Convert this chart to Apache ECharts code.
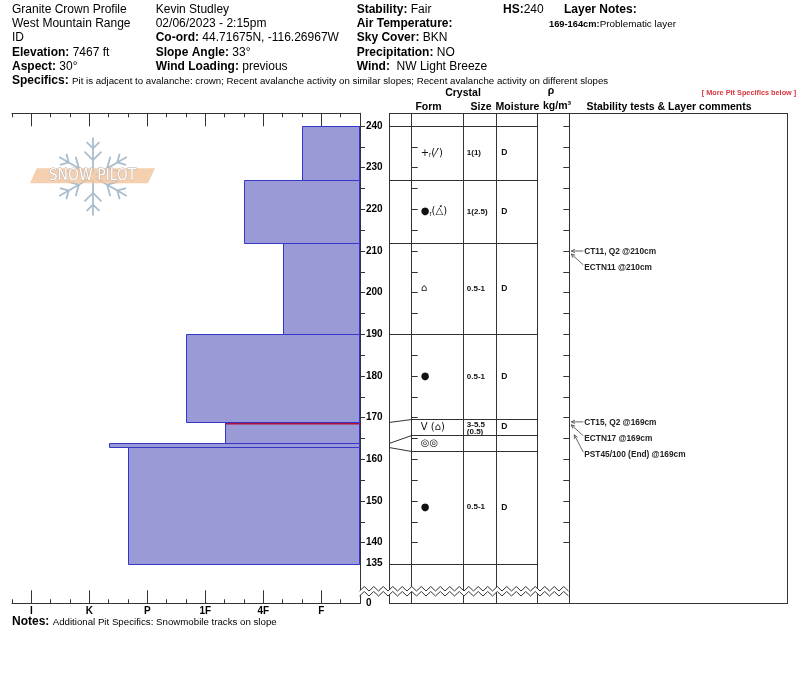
<!DOCTYPE html>
<html><head><meta charset="utf-8">
<script src="https://cdn.jsdelivr.net/npm/echarts@6/dist/echarts.min.js"></script>
<style>html,body{margin:0;padding:0;background:#fff}#c{width:800px;height:676px}</style>
</head><body><div id="c"></div>
<script>
// ---------------- data ----------------
const snowHeight = 240;
const layerTop      = [240, 227, 212, 190, 169, 164, 163];
const layerBottom   = [227, 212, 190, 169, 164, 163, 135];
const layerHardness = ['F+', '4F+', '4F-', '1F+', '1F-', 'K-', 'P+'];
const formPrimary   = ['+', '●', '⌂', '●', 'V', '◎◎', '●'];
const formSub       = ['r', 'r', '', '', '', '', ''];
const formSecondary = ['⁄′', '△̽', '', '', '⌂', '', ''];
const grainSize     = ['1(1)', '1(2.5)', '0.5-1', '0.5-1', '3-5.5\n(0.5)', '', '0.5-1'];
const moisture      = ['D', 'D', 'D', 'D', 'D', '', 'D'];
// table row edges as drawn (thin layers spread out)
const displayEdge   = [240, 227, 212, 190, 169.7, 165.85, 162.0, 135];
const hardnessLabels = ['F', '4F', '1F', 'P', 'K', 'I'];
const heightLabels  = [240, 230, 220, 210, 200, 190, 180, 170, 160, 150, 140, 135];
const heightTicks   = [240, 235, 230, 225, 220, 215, 210, 205, 200, 195, 190, 185, 180, 175, 170, 165, 160, 155, 150, 145, 140];
const problemLayer  = [169, 164];
const testDepth = [210, 210, 169, 169, 169];
const testText  = ['CT11, Q2 @210cm', 'ECTN11 @210cm', 'CT15, Q2 @169cm', 'ECTN17 @169cm', 'PST45/100 (End) @169cm'];

// ---------------- helpers ----------------
const FF = '"Liberation Sans", Arial, Helvetica, sans-serif';
const Y_MIN = 125.46, Y_MAX = 243.05;
const G_TOP = 113.3, G_H = 490;
const COL = {conn: 0, form: 22.7, size: 74.3, moist: 107.7, dens: 148.3, stab: 180.3, right: 399};
function hardVal(h) {
  const base = h.replace(/[+-]$/, '');
  let v = 2 + 3 * hardnessLabels.indexOf(base);
  if (h.endsWith('+')) v += 1;
  if (h.endsWith('-')) v -= 1;
  return v;
}
const crisp = v => Math.round(v) + 0.5;
const majorHard = hardnessLabels.map((_, i) => 2 + 3 * i);

const chart = echarts.init(document.getElementById('c'), null, {renderer: 'canvas'});

const profileData = layerTop.map((t, i) => [hardVal(layerHardness[i]), t, layerBottom[i], i]);
const tableData = layerTop.map((t, i) => [i, t]);
const testData = [];
const seen = {};
testDepth.forEach((d, i) => { seen[d] = (seen[d] === undefined) ? 0 : seen[d] + 1; testData.push([i, d, seen[d]]); });

// snowflake logo
const flake = [];
(function () {
  const cx = 93, cy = 176.5, L = 39;
  const ln = (x1, y1, x2, y2) => ({type: 'line', shape: {x1, y1, x2, y2}, style: {stroke: '#aabdcc', lineWidth: 1.8}, z: 0});
  for (let k = 0; k < 6; k++) {
    const a = (90 + 60 * k) * Math.PI / 180;
    const dx = Math.cos(a), dy = -Math.sin(a);
    flake.push(ln(cx + 3 * dx, cy + 3 * dy, cx + L * dx, cy + L * dy));
    [0.42, 0.72].forEach(d => {
      const px = cx + L * d * dx, py = cy + L * d * dy;
      [-1, 1].forEach(s => {
        const b = a + s * Math.PI / 4;
        const bl = d < 0.6 ? 12 : 9;
        flake.push(ln(px, py, px + bl * Math.cos(b), py - bl * Math.sin(b)));
      });
    });
  }
})();

function rt(x, y, text, size, extra) {
  return Object.assign({
    type: 'text', x, y, z: 10,
    style: Object.assign({
      text, fontSize: size, fontFamily: FF, fill: '#000', verticalAlign: 'middle',
      rich: {
        b: {fontWeight: 'bold', fontSize: size, fontFamily: FF, fill: '#000'},
        s: {fontSize: 9.7, fontFamily: FF, fill: '#000'},
        nb: {fontWeight: 'bold', fontSize: 9.3, fontFamily: FF, fill: '#000'},
        n: {fontSize: 9.9, fontFamily: FF, fill: '#000'}
      }
    }, extra || {})
  });
}

const headerRows = [10, 24, 38, 52.5, 67];
const col1 = ['Granite Crown Profile', 'West Mountain Range', 'ID', '{b|Elevation:} 7467 ft', '{b|Aspect:} 30°'];
const col2 = ['Kevin Studley', '02/06/2023 - 2:15pm', '{b|Co-ord:} 44.71675N, -116.26967W', '{b|Slope Angle:} 33°', '{b|Wind Loading:} previous'];
const col3 = ['{b|Stability:} Fair', '{b|Air Temperature:}', '{b|Sky Cover:} BKN', '{b|Precipitation:} NO', '{b|Wind:}  NW Light Breeze'];

const graphics = [];
col1.forEach((s, i) => graphics.push(rt(12, headerRows[i], s, 12)));
col2.forEach((s, i) => graphics.push(rt(155.7, headerRows[i], s, 12)));
col3.forEach((s, i) => graphics.push(rt(356.7, headerRows[i], s, 12)));
graphics.push(rt(503, 10, '{b|HS:}' + snowHeight, 12));
graphics.push(rt(564, 10, '{b|Layer Notes:}', 12));
graphics.push(rt(549, 24, '{nb|' + problemLayer[0] + '-' + problemLayer[1] + 'cm:}{n|Problematic layer}', 9.5));
graphics.push(rt(12, 81, '{b|Specifics:} {s|Pit is adjacent to avalanche: crown; Recent avalanche activity on similar slopes; Recent avalanche activity on different slopes}', 12));
graphics.push(rt(12, 622, '{b|Notes:} {s|Additional Pit Specifics: Snowmobile tracks on slope}', 12));

const hb = {fontWeight: 'bold', fontSize: 10.5, align: 'center'};
graphics.push(rt(463, 93, 'Crystal', 10.5, hb));
graphics.push(rt(428.5, 107, 'Form', 10.5, hb));
graphics.push(rt(481, 107, 'Size', 10.5, hb));
graphics.push(rt(517.5, 107, 'Moisture', 10.5, hb));
graphics.push(rt(551, 91, 'ρ', 10.5, hb));
graphics.push(rt(557, 106, 'kg/m³', 10.5, hb));
graphics.push(rt(669, 107, 'Stability tests & Layer comments', 10.5, hb));
graphics.push(rt(749, 93, '[ More Pit Specifics below ]', 7.3, {fontWeight: 'bold', align: 'center', fill: '#d9363e'}));

const fl = (x1, y1, x2, y2, z) => ({type: 'line', z: z || 5, shape: {x1, y1, x2, y2}, style: {stroke: '#333', lineWidth: 1}});
graphics.push(fl(389, 113.5, 788, 113.5));
graphics.push(fl(389, 603.5, 788, 603.5));
[389.5, 411.5, 463.5, 496.5, 537.5, 569.5, 787.5].forEach(x => graphics.push(fl(x, 113.5, x, 603.5)));

(function () {
  const up = [], lo = [];
  for (let x = 359.5, k = 0; x <= 570; x += 4.75, k++) {
    up.push([x, k % 2 ? 586.5 : 591]);
    lo.push([x, k % 2 ? 591.5 : 596]);
  }
  graphics.push({type: 'polygon', z: 50, shape: {points: up.concat(lo.slice().reverse())}, style: {fill: '#fff'}});
  graphics.push({type: 'polyline', z: 51, shape: {points: up}, style: {stroke: '#333', lineWidth: 1, fill: null}});
  graphics.push({type: 'polyline', z: 51, shape: {points: lo}, style: {stroke: '#333', lineWidth: 1, fill: null}});
})();

graphics.push({type: 'group', z: 0, children: flake});
graphics.push({type: 'polygon', z: 1, shape: {points: [[36.7, 168.3], [155, 168.3], [148, 183.3], [30, 183.3]]}, style: {fill: 'rgba(241,196,158,0.8)'}});
graphics.push({type: 'text', z: 2, x: 92.5, y: 176, style: {text: 'SNOW PILOT', fontSize: 15.5, fontFamily: '"DejaVu Sans Condensed", "DejaVu Sans", sans-serif', fill: '#fff', stroke: '#b9aaa0', lineWidth: 0.8, align: 'center', verticalAlign: 'middle'}});

const tickCommon = {lineStyle: {color: '#333', width: 1}};
const option = {
  animation: false,
  grid: [
    {left: 12, top: G_TOP, width: 348, height: G_H, show: false},
    {left: 389, top: G_TOP, width: 399, height: G_H, show: false}
  ],
  xAxis: [
    {gridIndex: 0, type: 'value', min: 0, max: 18, inverse: true, position: 'bottom',
      axisLine: {show: true, lineStyle: {color: '#333'}},
      axisTick: Object.assign({inside: true, length: 13, customValues: majorHard}, tickCommon),
      axisLabel: {customValues: majorHard, formatter: v => hardnessLabels[Math.round((v - 2) / 3)], fontFamily: FF, fontWeight: 'bold', fontSize: 10, color: '#000', margin: 3},
      splitLine: {show: false}},
    {gridIndex: 0, type: 'value', min: 0, max: 18, interval: 1, inverse: true, position: 'bottom',
      axisLine: {show: false}, axisTick: Object.assign({inside: true, length: 4}, tickCommon),
      axisLabel: {show: false}, splitLine: {show: false}},
    {gridIndex: 0, type: 'value', min: 0, max: 18, inverse: true, position: 'top',
      axisLine: {show: true, lineStyle: {color: '#333'}},
      axisTick: Object.assign({inside: true, length: 13, customValues: majorHard}, tickCommon),
      axisLabel: {show: false}, splitLine: {show: false}},
    {gridIndex: 0, type: 'value', min: 0, max: 18, interval: 1, inverse: true, position: 'top',
      axisLine: {show: false}, axisTick: Object.assign({inside: true, length: 4}, tickCommon),
      axisLabel: {show: false}, splitLine: {show: false}},
    {gridIndex: 1, type: 'value', min: 0, max: COL.right, show: false}
  ],
  yAxis: [
    {gridIndex: 0, type: 'value', min: Y_MIN, max: Y_MAX, position: 'right',
      axisLine: {show: true, lineStyle: {color: '#333'}},
      axisTick: Object.assign({inside: true, length: 5, customValues: heightTicks}, tickCommon),
      axisLabel: {customValues: heightLabels.concat([Y_MIN]), formatter: v => (v < 130 ? '0' : String(v)), fontFamily: FF, fontWeight: 'bold', fontSize: 10, color: '#000', margin: 6},
      splitLine: {show: false}},
    {gridIndex: 0, type: 'value', min: Y_MIN, max: Y_MAX, position: 'left',
      axisLine: {show: true, lineStyle: {color: '#333'}},
      axisTick: Object.assign({inside: true, length: 5, customValues: heightTicks}, tickCommon),
      axisLabel: {show: false}, splitLine: {show: false}},
    {gridIndex: 1, type: 'value', min: Y_MIN, max: Y_MAX, position: 'left', offset: -COL.form,
      axisLine: {show: false},
      axisTick: Object.assign({inside: true, length: 6, customValues: heightTicks}, tickCommon),
      axisLabel: {show: false}, splitLine: {show: false}},
    {gridIndex: 1, type: 'value', min: Y_MIN, max: Y_MAX, position: 'right', offset: -(COL.right - COL.stab),
      axisLine: {show: false},
      axisTick: Object.assign({inside: true, length: 6, customValues: heightTicks}, tickCommon),
      axisLabel: {show: false}, splitLine: {show: false}}
  ],
  series: [
    {
      type: 'custom', xAxisIndex: 0, yAxisIndex: 0, clip: false, z: 3,
      data: profileData,
      renderItem(params, api) {
        const hv = api.value(0), top = api.value(1), bot = api.value(2);
        const a = api.coord([0, top]), b = api.coord([hv, bot]);
        const x0 = crisp(Math.min(a[0], b[0])), x1 = crisp(Math.max(a[0], b[0])) - 1;
        const y0 = crisp(a[1]), y1 = crisp(b[1]);
        const children = [{type: 'rect', shape: {x: x0, y: y0, width: x1 - x0, height: y1 - y0},
          style: {fill: '#9a9ad7', stroke: '#3535c8', lineWidth: 1}}];
        if (top === problemLayer[0]) {
          children.push({type: 'line', shape: {x1: x0 + 0.5, y1: y0 + 1.2, x2: x1, y2: y0 + 1.2},
            style: {stroke: '#b0103a', lineWidth: 1.4}});
        }
        return {type: 'group', children};
      }
    },
    {
      type: 'custom', xAxisIndex: 4, yAxisIndex: 2, clip: false, z: 6,
      data: tableData,
      renderItem(params, api) {
        const i = api.value(0);
        const n = layerTop.length;
        const P = (x, h) => api.coord([x, h]);
        const children = [];
        const conn = (a, d) => {
          const p0 = P(COL.conn, a), p1 = P(COL.form, d), p2 = P(COL.dens, d);
          children.push({type: 'polyline', shape: {points: [[p0[0], crisp(p0[1])], [p1[0], crisp(p1[1])], [p2[0], crisp(p2[1])]]},
            style: {stroke: '#333', lineWidth: 1, fill: null}});
        };
        conn(layerTop[i], displayEdge[i]);
        if (i === n - 1) conn(layerBottom[i], displayEdge[i + 1]);
        const midY = P(0, (displayEdge[i] + displayEdge[i + 1]) / 2)[1];
        const fx = P(COL.form, 0)[0] + 9;
        let ftxt = '{p|' + formPrimary[i] + '}';
        if (formSub[i]) ftxt += '{s|' + formSub[i] + '}';
        if (formSecondary[i]) ftxt += '{p|' + (formSub[i] ? '' : ' ') + '(' + formSecondary[i] + ')}';
        children.push({type: 'text', style: {text: ftxt, x: fx, y: midY, verticalAlign: 'middle', fill: '#000',
          rich: {p: {fontSize: 10, fontFamily: '"DejaVu Sans", sans-serif', fill: '#111'},
                 s: {fontSize: 6.5, fontFamily: FF, fill: '#111', padding: [5, 0, 0, 0]}}}});
        if (grainSize[i]) {
          children.push({type: 'text', style: {text: grainSize[i], x: P(COL.size, 0)[0] + 3.5, y: midY + (grainSize[i].includes('\n') ? 1.5 : 0),
            verticalAlign: 'middle', fontSize: 8, fontWeight: 'bold', fontFamily: FF, fill: '#111', lineHeight: 7}});
        }
        if (moisture[i]) {
          children.push({type: 'text', style: {text: moisture[i], x: P(COL.moist, 0)[0] + 4.5, y: midY,
            verticalAlign: 'middle', fontSize: 8.5, fontWeight: 'bold', fontFamily: FF, fill: '#111'}});
        }
        return {type: 'group', children};
      }
    },
    {
      type: 'custom', xAxisIndex: 4, yAxisIndex: 2, clip: false, z: 6,
      data: testData,
      renderItem(params, api) {
        const i = api.value(0), d = api.value(1), k = api.value(2);
        const p = api.coord([COL.stab, d]);
        const ty = p[1] + 0.5 + k * 16.4;
        const sx = p[0] + 14;
        let sy, ex, ey;
        if (k === 0) { sy = p[1]; ex = p[0] + 2; ey = p[1]; }
        else { sy = ty - 3; ex = p[0] + 2 + (k - 1) * 3; ey = p[1] + 3 + (k - 1) * 10; }
        const ang = Math.atan2(ey - sy, ex - sx);
        const h1 = [ex - 4 * Math.cos(ang - 0.45), ey - 4 * Math.sin(ang - 0.45)];
        const h2 = [ex - 4 * Math.cos(ang + 0.45), ey - 4 * Math.sin(ang + 0.45)];
        return {type: 'group', children: [
          {type: 'line', shape: {x1: sx, y1: sy, x2: ex, y2: ey}, style: {stroke: '#555', lineWidth: 0.9}},
          {type: 'polyline', shape: {points: [h1, [ex, ey], h2]}, style: {stroke: '#555', lineWidth: 0.9, fill: null}},
          {type: 'text', style: {text: testText[i], x: p[0] + 15, y: ty, verticalAlign: 'middle',
            fontSize: 8.3, fontWeight: 'bold', fontFamily: FF, fill: '#222'}}
        ]};
      }
    }
  ],
  graphic: {elements: graphics}
};
chart.setOption(option);
</script>
</body></html>
